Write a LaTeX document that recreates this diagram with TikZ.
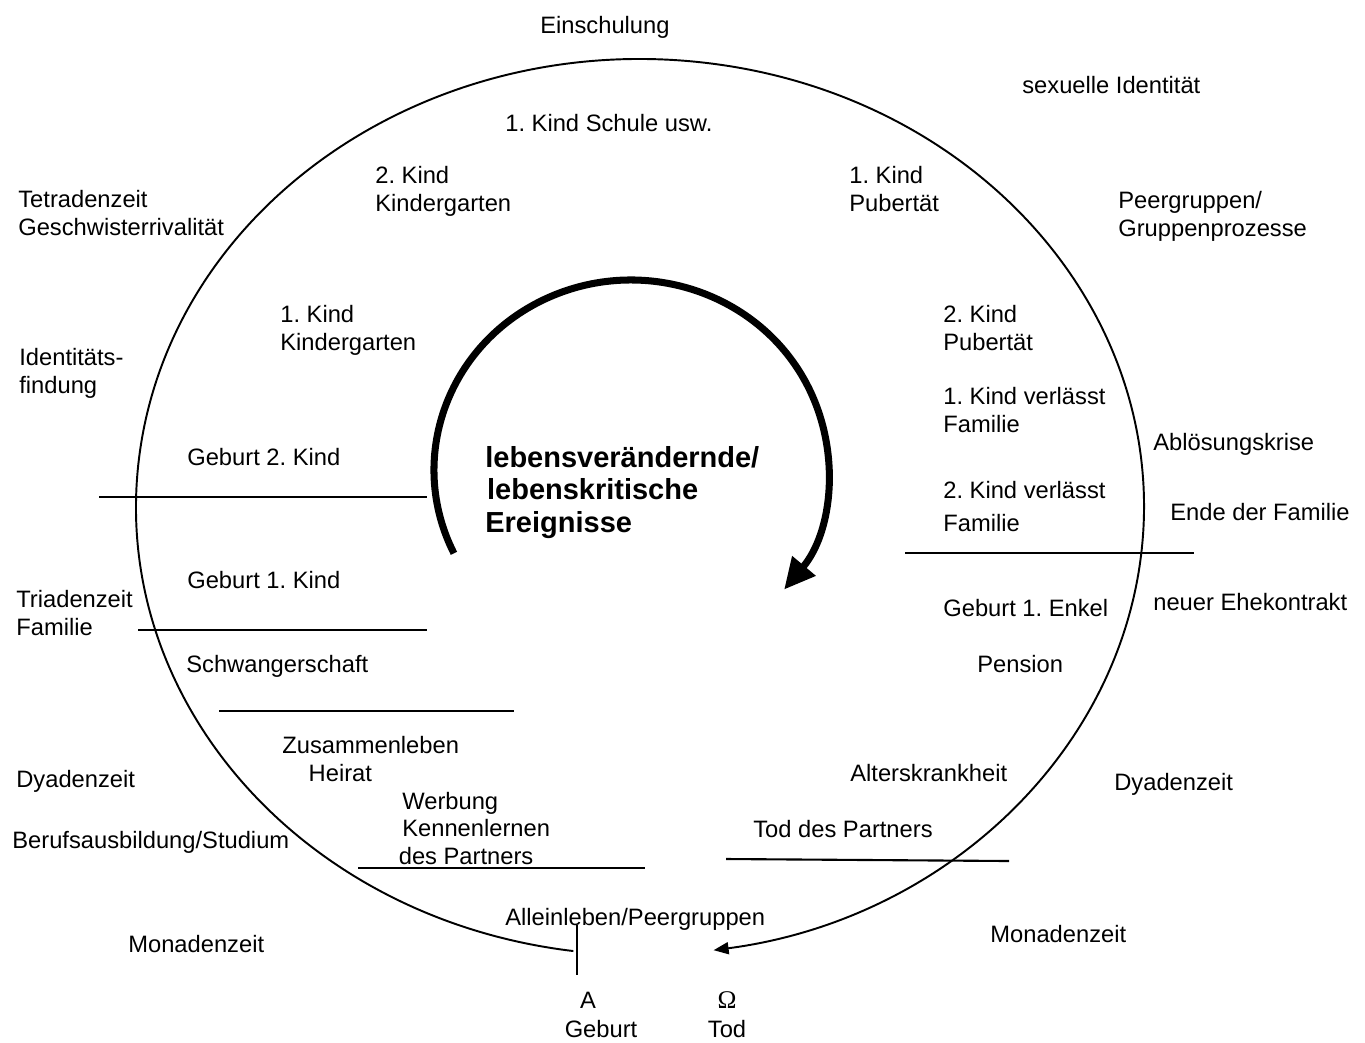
\documentclass[tikz,border=0pt]{standalone}
\usepackage{fontspec}
\setmainfont{Liberation Sans}
\newfontfamily\greekfont{Liberation Serif}
\usepackage{tikz}
\usetikzlibrary{arrows.meta, positioning, calc}
\frenchspacing
\tikzset{
    % plain labels, left aligned like in the scan (base = last line)
    phase/.style = {anchor=base west, inner sep=0pt, align=left, font=\fontsize{13.5}{15.4}\selectfont},
    sep/.style = {line width=1.2pt},
    lifeline/.style = {line width=1.1pt, -{Triangle[length=0.3cm, width=0.24cm]}},
    bigarrow/.style = {line width=4pt, -{Triangle[length=0.62cm, width=0.58cm]}}
}

\begin{document}
\begin{tikzpicture}[x=0.02cm, y=-0.02cm]
\useasboundingbox (0,0) rectangle (1365,1042);

% life course ring and the inner arrow
\coordinate (ring) at (640,507);
\coordinate (ringstart) at ($(ring)+(97.6:504 and 448)$);
\draw[lifeline] (ringstart) arc[start angle=97.6, end angle=441.6, x radius=504, y radius=448];

\coordinate (core) at (631,470);
\coordinate (corestart) at ($(core)+(154:197 and 190)$);
\draw[bigarrow] (corestart) arc[start angle=154, end angle=399, x radius=197, y radius=190];

% separators
\draw[sep] (99,497) -- (427,497);
\draw[sep] (138,630) -- (427,630);
\draw[sep] (219,711) -- (514,711);
\draw[sep] (358,868) -- (645,868);
\draw[sep] (726,859) -- (1009,861);
\draw[sep] (905,553) -- (1194,553);
\coordinate (birthmark) at (577,925);
\draw[sep] (birthmark) -- ++(0,50);

% labels
\node[phase] (einschulung) at (540,33) {Einschulung};
\node[phase] (sexid) at (1022,93) {sexuelle Identität};
\node[phase] (schule) at (505,131) {1. Kind Schule usw.};
\node[phase] (kiga2) at (375,211) {2. Kind\\Kindergarten};
\node[phase] (pub1) at (849,211) {1. Kind\\Pubertät};
\node[phase] (tetrade) at (18,235) {Tetradenzeit\\Geschwisterrivalität};
\node[phase] (peer) at (1118,236) {Peergruppen/\\Gruppenprozesse};
\node[phase] (kiga1) at (280,350) {1. Kind\\Kindergarten};
\node[phase] (pub2) at (943,350) {2. Kind\\Pubertät};
\node[phase] (identitaet) at (19,393) {Identitäts-\\findung};
\node[phase] (verlasst1) at (943,432) {1. Kind verlässt\\Familie};
\node[phase] (abloesung) at (1153,450) {Ablösungskrise};
\node[phase] (geburt2) at (187,465) {Geburt 2. Kind};
\node[phase] (verlasst2) at (943,531) {2. Kind verlässt\\[3pt]Familie};
\node[phase] (ende) at (1170,520) {Ende der Familie};
\node[phase] (geburt1) at (187,588) {Geburt 1. Kind};
\node[phase] (triade) at (16,635) {Triadenzeit\\Familie};
\node[phase] (enkel) at (943,616) {Geburt 1. Enkel};
\node[phase] (ehe) at (1153,610) {neuer Ehekontrakt};
\node[phase] (schwanger) at (186,672) {Schwangerschaft};
\node[phase] (pension) at (977,672) {Pension};
\node[phase] (heirat) at (282,781) {Zusammenleben\\\hspace*{15pt}Heirat};
\node[phase] (alter) at (850,781) {Alterskrankheit};
\node[phase] (dyadeL) at (16,787) {Dyadenzeit};
\node[phase] (dyadeR) at (1114,790) {Dyadenzeit};
\node[phase] (werbung) at (402,864) {Werbung\\Kennenlernen\\\hspace*{-2pt}des Partners};
\node[phase] (beruf) at (12,848) {Berufsausbildung/Studium};
\node[phase] (todpartner) at (753,837) {Tod des Partners};
\node[phase] (allein) at (505,925) {Alleinleben/Peergruppen};
\node[phase] (monadeL) at (128,952) {Monadenzeit};
\node[phase] (monadeR) at (990,942) {Monadenzeit};

\node[phase, anchor=base] (alpha) at (588,1008) {A};
\node[phase, anchor=base] (geburt) at (601,1037) {Geburt};
\node[phase, anchor=base] (omega) at (727,1008) {\greekfont\fontsize{14.5}{15.4}\selectfont Ω};
\node[phase, anchor=base] (tod) at (727,1037) {Tod};

\node[phase, font=\fontsize{16.5}{18.4}\selectfont\bfseries] (ereignis) at (485,532)
    {lebensverändernde/\\\hspace*{1pt}lebenskritische\\Ereignisse};

\end{tikzpicture}
\end{document}
